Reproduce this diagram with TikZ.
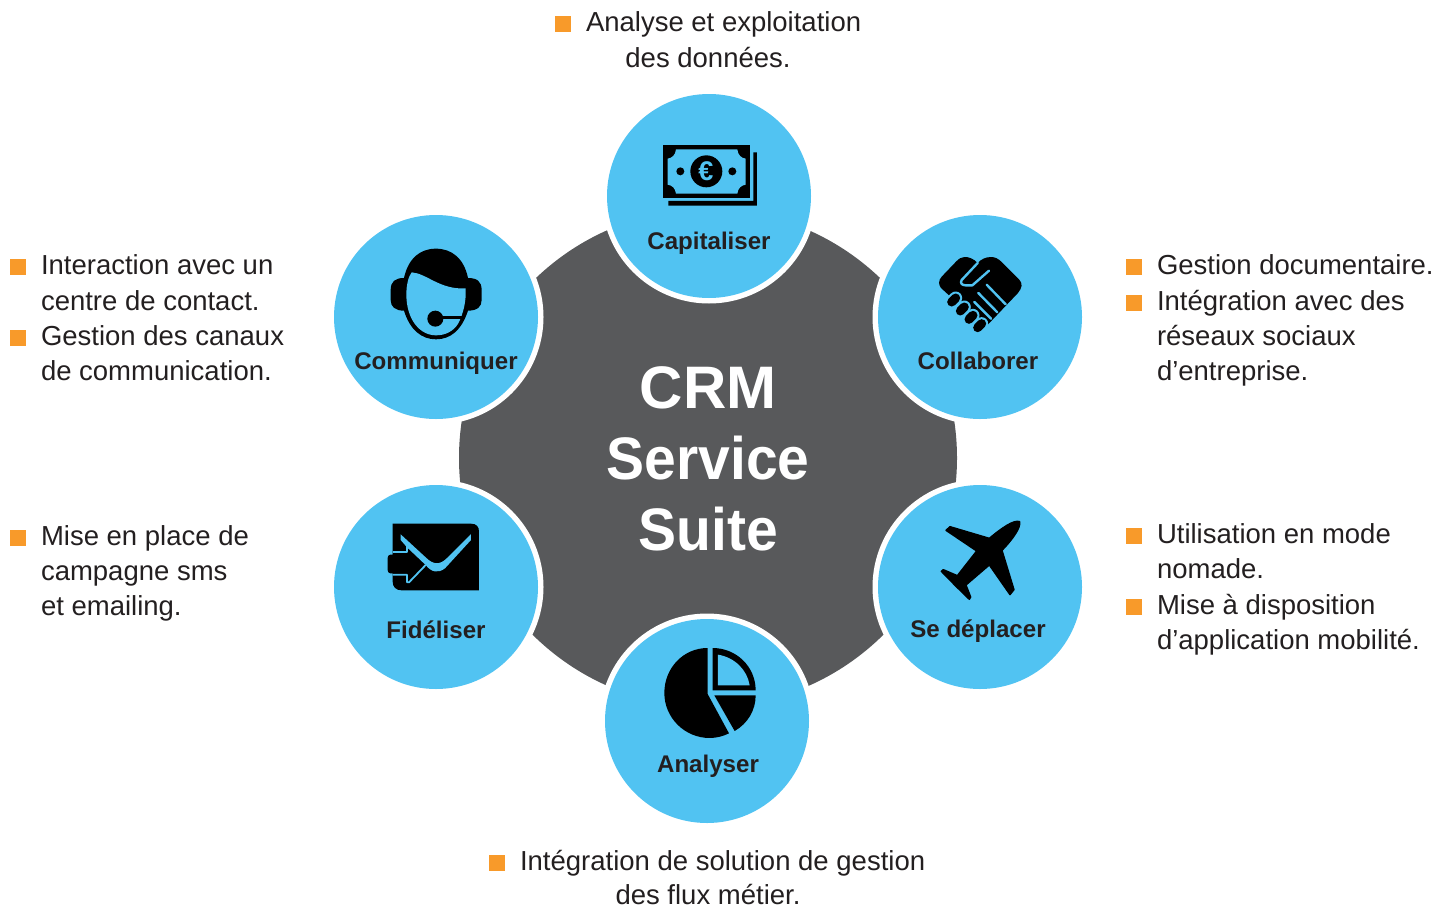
\documentclass[tikz,border=0pt]{standalone}
\usepackage{fontspec}
\setmainfont{Liberation Sans}
\definecolor{sky}{HTML}{51C3F2}
\definecolor{hub}{HTML}{58595B}
\definecolor{mark}{HTML}{F89A2A}
\definecolor{ink}{HTML}{231F20}
\tikzset{
 every node/.style={inner sep=0pt,outer sep=0pt},
 disc/.style={circle,fill=sky,minimum size=204pt},
 halo/.style={circle,fill=white,minimum size=215pt},
 caption/.style={font=\bfseries\fontsize{24.1}{28}\selectfont,text=ink,anchor=base},
 title/.style={font=\bfseries\fontsize{60}{60}\selectfont,text=white,anchor=base},
 body/.style={font=\fontsize{27.5}{34}\selectfont,text=ink,anchor=base west,yshift=0.6pt},
 bodyc/.style={font=\fontsize{27.5}{34}\selectfont,text=ink,anchor=base,yshift=0.6pt},
 bullet/.style={fill=mark,minimum size=16pt,anchor=center},
 icon/.style={fill=black,draw=none},
 iconcut/.style={fill=sky,draw=none},
 cutline/.style={draw=sky,line width=2.4pt,line cap=round,line join=round},
}
\begin{document}
\begin{tikzpicture}[x=1pt,y=-1pt]
\useasboundingbox (0,0) rectangle (1448,908);
\node[circle,fill=hub,minimum size=498pt] (hubdisc) at (708,458) {};
\foreach \n/\cx/\cy in {hc/709/196,hl/436/317,hr/980/317,hbl/436/587,hbr/980/587,hb/707/721}{
  \node[halo] (\n) at (\cx,\cy) {};
}
\node[disc] (capit) at (709,196) {};
\node[disc] (commu) at (436,317) {};
\node[disc] (colla) at (980,317) {};
\node[disc] (fidel) at (436,587) {};
\node[disc] (depla) at (980,587) {};
\node[disc] (analy) at (707,721) {};

% money icon
\begin{scope}[shift={(600,90)},x=0.3333pt,y=-0.3333pt]
 \fill[icon] (460,187) -- (471,187) -- (471,347) -- (205,347) -- (205,333) -- (460,333) -- cycle;
 \fill[icon] (190,164) rectangle (450,324);
 \fill[iconcut] (228,178) -- (412,178) .. controls (414,196) and (424,204) .. (437,206) -- (437,284)
   .. controls (424,286) and (414,294) .. (412,311) -- (228,311) .. controls (226,294) and (216,286) .. (203,284)
   -- (203,206) .. controls (216,204) and (226,196) .. (228,178) -- cycle;
 \fill[icon] (319,244) circle (48);
 \fill[icon] (241,244) circle (12);
 \fill[icon] (397,244) circle (12);
 \node[text=sky,font=\bfseries\fontsize{27}{27}\selectfont] (euro) at (318,245) {€};
\end{scope}

% headset icon
\begin{scope}[shift={(330,210)},x=0.3333pt,y=-0.3333pt]
 \fill[icon] (318,116) .. controls (270,116) and (235,145) .. (222,204)
   .. controls (195,204) and (182,215) .. (182,240) -- (182,270) .. controls (182,290) and (195,302) .. (222,302)
   .. controls (240,360) and (275,388) .. (318,388) .. controls (362,388) and (395,360) .. (414,302)
   .. controls (442,302) and (455,290) .. (455,270) -- (455,240) .. controls (455,215) and (442,204) .. (414,204)
   .. controls (402,145) and (365,116) .. (318,116) -- cycle;
 \fill[iconcut] (245,187) .. controls (290,190) and (330,240) .. (407,235)
   .. controls (409,275) and (400,310) .. (385,340) .. controls (370,365) and (345,376) .. (318,376)
   .. controls (270,376) and (230,330) .. (229,255) .. controls (229,225) and (235,200) .. (245,187) -- cycle;
 \fill[icon] (316,326) circle (24);
 \fill[icon] (316,318) rectangle (396,327);
\end{scope}

% handshake icon
\begin{scope}[shift={(935,252)},x=0.3333pt,y=-0.3333pt]
 \fill[icon] (128,33) .. controls (116,20) and (100,14) .. (88,15) .. controls (78,16) and (72,20) .. (64,28)
   -- (20,74) .. controls (10,85) and (10,98) .. (18,108) -- (42,130) -- (125,233)
   .. controls (130,238) and (140,238) .. (145,232) -- (248,124)
   .. controls (262,108) and (264,94) .. (252,82) -- (200,30) .. controls (190,20) and (180,15) .. (168,15)
   .. controls (152,15) and (138,22) .. (128,33) -- cycle;
 \draw[cutline] (128,33) -- (80,84) .. controls (74,94) and (82,100) .. (92,100) -- (112,100) -- (162,56);
 \draw[cutline] (155,98) -- (212,157);
 \draw[cutline] (130,123) -- (187,181);
 \draw[cutline] (118,150) -- (168,200);
 \foreach \a/\b in {56/144,82/171,108/196,134/221}{
  \draw[line width=13pt,line cap=round,sky] (\a-6,\b+6) -- (\a+6,\b-6);
  \draw[line width=9pt,line cap=round,black] (\a-6,\b+6) -- (\a+6,\b-6);
 }
\end{scope}

% envelope icon
\begin{scope}[shift={(385,520)},x=0.3333pt,y=-0.3333pt]
 \fill[icon] (23,11) -- (258,11) .. controls (274,11) and (282,20) .. (282,34) -- (282,211) -- (50,211)
   .. controls (32,211) and (23,200) .. (23,185) -- (23,160) -- (16,160) .. controls (11,160) and (8,156) .. (8,150)
   -- (8,114) .. controls (8,108) and (11,104) .. (16,104) -- (23,104) -- cycle;
 \fill[iconcut] (47,43) -- (122,112) .. controls (145,135) and (165,135) .. (185,115) -- (258,42) -- (258,60)
   -- (180,145) .. controls (160,160) and (140,158) .. (122,135) -- (66,82) -- (47,60) -- cycle;
 \draw[cutline,line width=1.8pt,line cap=butt] (23,97) -- (66,97) -- (66,74);
 \draw[cutline,line width=1.8pt,line cap=butt] (23,164) -- (66,164) -- (66,187) -- (72,187) -- (122,135);
\end{scope}

% plane icon
\begin{scope}[shift={(870,478)},x=0.3333pt,y=-0.3333pt]
 \fill[icon,draw=black,line width=1.4pt,line join=round] (449,131) .. controls (453,148) and (430,182) .. (396,217) -- (432,335) -- (420,350) -- (358,261)
   -- (288,321) -- (302,357) -- (298,364) -- (258,325) -- (214,280) -- (220,275) -- (262,293) -- (320,219)
   -- (228,157) -- (240,146) -- (358,181) .. controls (395,150) and (432,124) .. (449,131) -- cycle;
\end{scope}

% pie icon
\begin{scope}[shift={(598,610)},x=0.3333pt,y=-0.3333pt]
 \fill[icon] (329,114) -- (329,252) -- (393,370) .. controls (375,379) and (355,384) .. (335,384)
   .. controls (260,384) and (199,323) .. (199,249) .. controls (199,175) and (255,114) .. (329,114) -- cycle;
 \fill[icon] (344,114) .. controls (415,114) and (473,170) .. (473,241) -- (344,241) -- cycle;
 \fill[iconcut] (360,134) .. controls (410,142) and (448,180) .. (455,226) -- (360,226) -- cycle;
 \fill[icon] (349,256) -- (473,256) .. controls (473,300) and (450,340) .. (410,363) -- cycle;
\end{scope}

% captions
\node[caption] (lc) at (709,249) {Capitaliser};
\node[caption] (ll) at (436,369) {Communiquer};
\node[caption] (lr) at (978,369) {Collaborer};
\node[caption] (lbl) at (436,638) {Fidéliser};
\node[caption] (lbr) at (978,637) {Se déplacer};
\node[caption] (lb) at (708,772) {Analyser};

% title
\node[title] (t1) at (708,408) {CRM};
\node[title] (t2) at (708,479) {\scalebox{0.95}[1]{Service}};
\node[title] (t3) at (708,550) {\scalebox{0.95}[1]{Suite}};

% top
\node[bullet] (b1) at (563,24) {};
\node[body] (a1) at (586,32) {Analyse et exploitation};
\node[bodyc] (a2) at (708,68) {des données.};
% left top
\node[bullet] (b2) at (18,267) {};
\node[body] (c1) at (41,275) {Interaction avec un};
\node[body] (c2) at (41,311) {centre de contact.};
\node[bullet] (b3) at (18,338) {};
\node[body] (c3) at (41,346) {Gestion des canaux};
\node[body] (c4) at (41,381) {de communication.};
% right top
\node[bullet] (b4) at (1134,267) {};
\node[body] (d1) at (1157,275) {Gestion documentaire.};
\node[bullet] (b5) at (1134,303) {};
\node[body] (d2) at (1157,311) {Intégration avec des};
\node[body] (d3) at (1157,346) {réseaux sociaux};
\node[body] (d4) at (1157,381) {d’entreprise.};
% left bottom
\node[bullet] (b6) at (18,538) {};
\node[body] (e1) at (41,546) {Mise en place de};
\node[body] (e2) at (41,581) {campagne sms};
\node[body] (e3) at (41,616) {et emailing.};
% right bottom
\node[bullet] (b7) at (1134,536) {};
\node[body] (f1) at (1157,544) {Utilisation en mode};
\node[body] (f2) at (1157,579) {nomade.};
\node[bullet] (b8) at (1134,607) {};
\node[body] (f3) at (1157,615) {Mise à disposition};
\node[body] (f4) at (1157,650) {d’application mobilité.};
% bottom
\node[bullet] (b9) at (497,863) {};
\node[body] (g1) at (520,871) {Intégration de solution de gestion};
\node[bodyc] (g2) at (708,905) {des flux métier.};
\end{tikzpicture}
\end{document}
